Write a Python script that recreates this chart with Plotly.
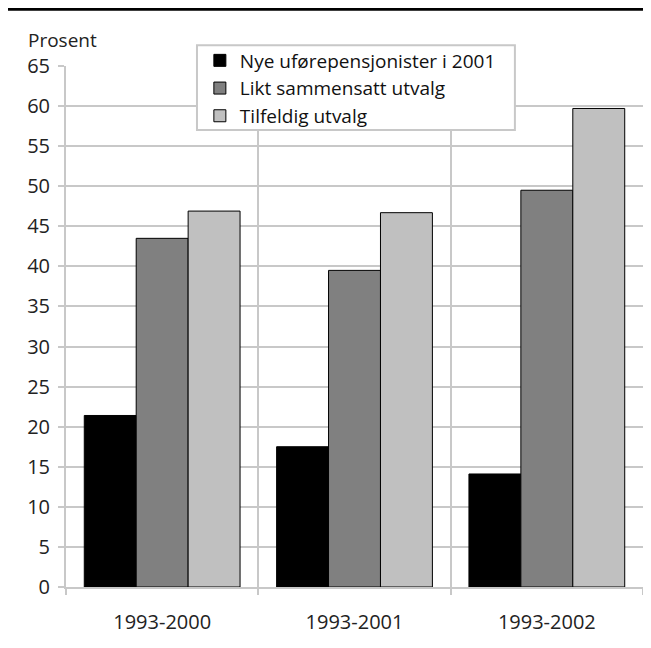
import plotly.graph_objects as go

categories = ["1993-2000", "1993-2001", "1993-2002"]
series_names = ["Nye uførepensjonister i 2001", "Likt sammensatt utvalg", "Tilfeldig utvalg"]
nye = [21.4, 17.5, 14.1]
likt = [43.5, 39.5, 49.5]
tilfeldig = [46.9, 46.7, 59.7]
colors = ["#000000", "#808080", "#c0c0c0"]
y_ticks = list(range(0, 70, 5))

fig = go.Figure()
for name, vals, col in zip(series_names, [nye, likt, tilfeldig], colors):
    fig.add_trace(go.Bar(x=categories, y=vals, name=name,
                         marker=dict(color=col, line=dict(color="#000000", width=1))))

grid = "#c8c8c8"
FONT = "Open Sans"
fig.update_layout(
    width=651, height=648,
    margin=dict(l=58, r=16, t=58, b=69),
    paper_bgcolor="white", plot_bgcolor="white",
    barmode="group", bargap=0.19, bargroupgap=0,
    font=dict(family=FONT, size=20, color="#222222"),
    showlegend=True,
    legend=dict(x=0.232, y=1.047, xanchor="left", yanchor="top",
                bgcolor="rgba(0,0,0,0)", borderwidth=0,
                font=dict(family=FONT, size=19, color="#111111"),
                itemwidth=30),
    xaxis=dict(type="category", tickson="boundaries", showgrid=True, gridcolor=grid,
               gridwidth=2, ticks="outside", ticklen=6, tickcolor=grid, tickwidth=2,
               showline=True, linecolor=grid, linewidth=2,
               tickfont=dict(size=20), range=[-0.5, 2.5], ticklabelstandoff=16),
    yaxis=dict(range=[0, 65], tickvals=y_ticks, showgrid=True, gridcolor=grid,
               gridwidth=2, ticks="outside", ticklen=6, tickcolor=grid, tickwidth=2,
               showline=True, linecolor=grid, linewidth=2, zeroline=False,
               tickfont=dict(size=20), ticklabelstandoff=4),
    shapes=[
        dict(type="line", xref="paper", yref="paper", x0=-0.11, x1=1.05,
             y0=1.109, y1=1.109, line=dict(color="black", width=3)),
        dict(type="rect", xref="paper", yref="paper", x0=0.227, x1=0.778,
             y0=0.877, y1=1.040, fillcolor="white", line=dict(color=grid, width=2),
             layer="above"),
    ],
    annotations=[dict(text="Prosent", xref="paper", yref="paper", x=-0.069, y=1.05,
                      xanchor="left", yanchor="middle", showarrow=False,
                      font=dict(family=FONT, size=19, color="#222222"))],
)
fig.write_html("out.html")
